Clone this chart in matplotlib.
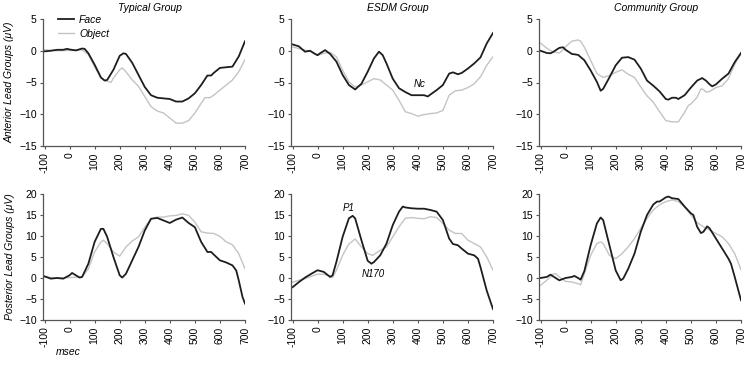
import matplotlib
matplotlib.use('Agg')
import matplotlib.pyplot as plt

plt.rcParams['font.family'] = ['Liberation Sans', 'DejaVu Sans']

# czasy i amplitudy (ms, uV)
typical_ant_face = [(-100, -0.1), (-75, 0), (-50, 0.15), (-25, 0.15), (-10, 0.3), (0, 0.2), (25, 0.05),
                    (50, 0.35), (60, 0.3), (75, -0.4), (100, -2.2), (125, -4.2), (140, -4.7), (150, -4.6),
                    (175, -3.0), (200, -0.8), (215, -0.4), (225, -0.5), (250, -1.9), (275, -3.8), (300, -5.7),
                    (325, -7.0), (350, -7.4), (375, -7.5), (400, -7.6), (425, -8.0), (450, -8.0), (475, -7.5),
                    (500, -6.7), (525, -5.4), (550, -3.9), (565, -3.9), (575, -3.5), (600, -2.7), (625, -2.6),
                    (650, -2.5), (675, -0.9), (700, 1.5)]
typical_ant_object = [(-100, 0.15), (-75, 0.05), (-50, 0), (0, 0.05), (50, 0.15), (75, -0.6), (100, -2.5),
                      (125, -4.3), (150, -4.8), (165, -5.0), (175, -4.3), (200, -3.0), (210, -2.7), (225, -3.3),
                      (250, -4.6), (275, -5.6), (300, -7.2), (325, -8.8), (350, -9.5), (375, -9.8), (400, -10.6),
                      (425, -11.4), (450, -11.4), (475, -11.0), (500, -9.8), (525, -8.3), (540, -7.4), (560, -7.4),
                      (575, -7.0), (600, -6.2), (625, -5.4), (650, -4.6), (675, -3.3), (700, -1.4)]

esdm_ant_face = [(-100, 1.0), (-75, 0.7), (-50, -0.15), (-30, 0), (-10, -0.5), (0, -0.7), (10, -0.4), (30, 0.1),
                 (50, -0.5), (75, -1.7), (100, -3.8), (125, -5.4), (150, -6.1), (175, -5.2), (200, -3.3),
                 (225, -1.2), (245, -0.15), (260, -0.7), (275, -2.0), (300, -4.4), (325, -5.9), (350, -6.5),
                 (375, -7.0), (400, -7.0), (425, -7.0), (440, -7.2), (450, -6.9), (475, -6.2), (500, -5.4),
                 (525, -3.6), (540, -3.4), (560, -3.7), (575, -3.5), (600, -2.8), (625, -2.0), (650, -1.05),
                 (675, 1.15), (700, 2.8)]
esdm_ant_object = [(-100, 0.6), (-75, 0.35), (-50, 0.1), (-25, -0.15), (0, -0.7), (25, -0.4), (50, -0.25),
                   (75, -0.95), (100, -3.05), (125, -4.9), (150, -5.7), (175, -5.4), (200, -4.9), (225, -4.4),
                   (250, -4.6), (275, -5.4), (300, -6.2), (325, -7.8), (350, -9.6), (375, -9.9), (400, -10.3),
                   (425, -10.05), (450, -9.9), (475, -9.8), (500, -9.4), (525, -7.0), (550, -6.3), (575, -6.2),
                   (600, -5.8), (625, -5.2), (650, -4.1), (675, -2.3), (700, -0.95)]

community_ant_face = [(-100, 0), (-75, -0.35), (-60, -0.4), (-50, -0.2), (-25, 0.45), (-10, 0.55), (0, 0.15),
                      (25, -0.5), (50, -0.65), (75, -1.5), (100, -3.1), (125, -4.9), (140, -6.3), (150, -6.0),
                      (175, -4.2), (200, -2.3), (225, -1.1), (250, -1.0), (275, -1.4), (300, -2.8), (325, -4.7),
                      (350, -5.5), (375, -6.4), (400, -7.6), (410, -7.7), (425, -7.4), (440, -7.4), (450, -7.6),
                      (475, -7.0), (500, -5.8), (525, -4.7), (545, -4.3), (560, -4.7), (575, -5.3), (585, -5.6),
                      (600, -5.3), (625, -4.4), (650, -3.6), (675, -1.8), (700, -0.35)]
community_ant_object = [(-100, 1.2), (-75, 0.4), (-50, -0.2), (-25, -0.35), (-10, 0.15), (0, 0.65), (25, 1.5),
                        (50, 1.7), (60, 1.5), (75, 0.55), (100, -1.5), (125, -3.6), (150, -4.2), (175, -3.9),
                        (200, -3.4), (225, -3.0), (250, -3.7), (275, -4.2), (300, -5.7), (325, -7.1), (350, -8.1),
                        (375, -9.6), (400, -11.0), (425, -11.2), (450, -11.2), (475, -9.7), (490, -8.6),
                        (500, -8.4), (525, -7.3), (540, -6.0), (550, -6.1), (560, -6.5), (575, -6.4), (600, -5.8),
                        (625, -5.5), (650, -4.4), (675, -2.1), (700, -0.5)]

typical_post_face = [(-100, 0.4), (-75, -0.15), (-50, 0), (-25, -0.15), (0, 0.65), (10, 1.2), (25, 0.65),
                     (40, 0.1), (50, 0.25), (75, 3.4), (100, 8.6), (125, 11.7), (135, 11.7), (150, 9.8),
                     (175, 5.0), (200, 0.65), (210, 0.1), (225, 1.0), (250, 4.2), (275, 7.4), (300, 11.3),
                     (325, 14.1), (350, 14.3), (375, 13.7), (400, 13.1), (425, 13.9), (450, 14.4), (475, 13.1),
                     (500, 12.1), (525, 8.6), (550, 6.2), (565, 6.2), (575, 5.6), (600, 4.2), (625, 3.7),
                     (650, 3.0), (665, 1.8), (675, -0.55), (690, -4.5), (700, -6.1)]
typical_post_object = [(-100, 0.25), (-50, 0), (0, 0.1), (50, 0.25), (75, 2.2), (100, 6.2), (125, 8.6),
                       (135, 9.0), (150, 8.2), (175, 6.2), (200, 5.2), (225, 7.4), (250, 8.8), (275, 9.8),
                       (300, 12.1), (325, 14.1), (350, 14.5), (375, 14.5), (400, 14.8), (425, 14.9), (450, 15.3),
                       (475, 14.9), (500, 13.3), (525, 11.0), (550, 10.7), (575, 10.6), (600, 9.9), (625, 8.6),
                       (650, 7.9), (675, 5.8), (700, 2.2)]

esdm_post_face = [(-100, -2.2), (-75, -1.0), (-50, 0.1), (-25, 1.0), (0, 1.85), (25, 1.45), (50, 0.25),
                  (60, 0.65), (75, 3.8), (100, 9.8), (125, 14.2), (140, 14.8), (150, 14.2), (175, 9.0),
                  (200, 4.1), (215, 3.4), (225, 3.8), (250, 5.4), (275, 8.2), (300, 12.6), (325, 15.8),
                  (340, 17.0), (350, 16.8), (375, 16.6), (400, 16.5), (425, 16.5), (450, 16.2), (475, 15.8),
                  (500, 13.8), (525, 9.4), (540, 8.1), (560, 7.8), (575, 7.0), (600, 5.8), (625, 5.4),
                  (640, 4.6), (650, 2.6), (675, -3.0), (700, -7.4)]
esdm_post_object = [(-100, -1.0), (-75, -0.55), (-50, -0.15), (-25, 0.4), (0, 0.9), (25, 0.9), (50, 0.4),
                    (60, 0.1), (75, 1.85), (100, 5.4), (125, 8.1), (150, 9.3), (175, 7.4), (200, 5.8),
                    (220, 5.4), (250, 6.6), (275, 7.4), (300, 9.8), (325, 12.2), (350, 14.2), (375, 14.4),
                    (400, 14.2), (425, 14.1), (450, 14.6), (475, 14.4), (500, 13.0), (525, 11.4), (550, 10.6),
                    (575, 10.6), (600, 9.0), (625, 8.2), (650, 7.4), (675, 5.0), (700, 1.85)]

community_post_face = [(-100, 0), (-75, 0.25), (-60, 0.8), (-50, 0.4), (-25, -0.55), (0, 0), (25, 0.25),
                       (35, 0.5), (50, 0), (60, -0.4), (75, 1.65), (100, 7.8), (125, 13.0), (140, 14.4),
                       (150, 13.8), (175, 7.8), (200, 1.8), (220, -0.55), (230, -0.15), (250, 2.2), (275, 5.8),
                       (300, 11.0), (325, 15.0), (350, 17.5), (365, 18.2), (375, 18.2), (400, 19.2), (410, 19.4),
                       (425, 19.0), (450, 18.8), (475, 17.0), (500, 15.4), (510, 15.0), (525, 12.2), (540, 10.7),
                       (550, 11.0), (565, 12.3), (575, 11.8), (600, 9.4), (625, 7.0), (650, 4.6), (660, 3.4),
                       (675, 0.25), (700, -5.3)]
community_post_object = [(-100, -1.75), (-75, -0.55), (-50, 0.9), (-40, 1.05), (-25, 0.25), (0, -0.8),
                         (25, -0.95), (50, -1.35), (60, -1.6), (75, 1.05), (100, 5.4), (125, 8.2), (140, 8.6),
                         (150, 8.2), (175, 5.4), (200, 4.6), (225, 5.8), (250, 7.4), (275, 9.4), (300, 11.8),
                         (325, 14.2), (350, 16.2), (375, 17.4), (400, 18.2), (425, 18.6), (450, 18.2), (475, 16.9),
                         (500, 15.0), (525, 13.2), (550, 12.2), (575, 11.4), (600, 10.6), (625, 9.8), (650, 8.2),
                         (675, 5.8), (700, 2.0)]

titles = ['Typical Group', 'ESDM Group', 'Community Group']
x_ticks = [-100, 0, 100, 200, 300, 400, 500, 600, 700]
top_yticks = [-15, -10, -5, 0, 5]
bottom_yticks = [-10, -5, 0, 5, 10, 15, 20]

face_color = '#1e1e1e'
object_color = '#c4c4c4'

fig = plt.figure(figsize=(7.49, 3.66), dpi=100)

lefts = [43 / 749, 291 / 749, 539 / 749]
width = 202 / 749
top_row = [1 - 146 / 366, 127 / 366]
bottom_row = [1 - 320 / 366, 126 / 366]

top_data = [(typical_ant_face, typical_ant_object), (esdm_ant_face, esdm_ant_object),
            (community_ant_face, community_ant_object)]
bottom_data = [(typical_post_face, typical_post_object), (esdm_post_face, esdm_post_object),
               (community_post_face, community_post_object)]


def style_axes(ax, yticks):
    for side in ['top', 'right']:
        ax.spines[side].set_visible(False)
    for side in ['left', 'bottom']:
        ax.spines[side].set_color('#555555')
        ax.spines[side].set_linewidth(0.9)
    ax.set_xlim(-106, 700)
    ax.set_xticks(x_ticks)
    ax.set_xticklabels([str(t) for t in x_ticks], rotation=90)
    ax.set_ylim(yticks[0], yticks[-1])
    ax.set_yticks(yticks)
    ax.tick_params(axis='both', labelsize=7.5, length=2.5, width=0.8, color='#555555', pad=2)


axes_top = []
for i in range(3):
    ax = fig.add_axes([lefts[i], top_row[0], width, top_row[1]])
    face, obj = top_data[i]
    ax.plot([p[0] for p in obj], [p[1] for p in obj], color=object_color, lw=1.0, label='Object')
    ax.plot([p[0] for p in face], [p[1] for p in face], color=face_color, lw=1.3, label='Face')
    style_axes(ax, top_yticks)
    ax.text(0.53 if i < 2 else 0.58, 1.05, titles[i], transform=ax.transAxes, ha='center', va='bottom',
            fontsize=7.5, style='italic')
    axes_top.append(ax)

axes_bottom = []
for i in range(3):
    ax = fig.add_axes([lefts[i], bottom_row[0], width, bottom_row[1]])
    face, obj = bottom_data[i]
    ax.plot([p[0] for p in obj], [p[1] for p in obj], color=object_color, lw=1.0)
    ax.plot([p[0] for p in face], [p[1] for p in face], color=face_color, lw=1.3)
    style_axes(ax, bottom_yticks)
    axes_bottom.append(ax)

# legenda w pierwszym panelu
handles, labels = axes_top[0].get_legend_handles_labels()
axes_top[0].legend(handles[::-1], labels[::-1], loc='upper left', bbox_to_anchor=(0.05, 1.075),
                   frameon=False, prop={'style': 'italic', 'size': 7.5},
                   handlelength=1.5, handletextpad=0.5, labelspacing=0.4, borderpad=0)

# opisy komponentów
axes_top[1].text(408, -5.2, 'Nc', fontsize=7, style='italic', ha='center', va='center')
axes_bottom[1].text(124, 16.6, 'P1', fontsize=7, style='italic', ha='center', va='center')
axes_bottom[1].text(222, 1.0, 'N170', fontsize=7, style='italic', ha='center', va='center')

fig.text(10 / 749, 1 - 82 / 366, 'Anterior Lead Groups (μV)', rotation=90, ha='center', va='center',
         fontsize=7.5, style='italic')
fig.text(10 / 749, 1 - 257 / 366, 'Posterior Lead Groups (μV)', rotation=90, ha='center', va='center',
         fontsize=7.5, style='italic')
fig.text(68 / 749, 1 - 352 / 366, 'msec', ha='center', va='center', fontsize=7.5, style='italic')

fig.savefig('out.png', dpi=100)
